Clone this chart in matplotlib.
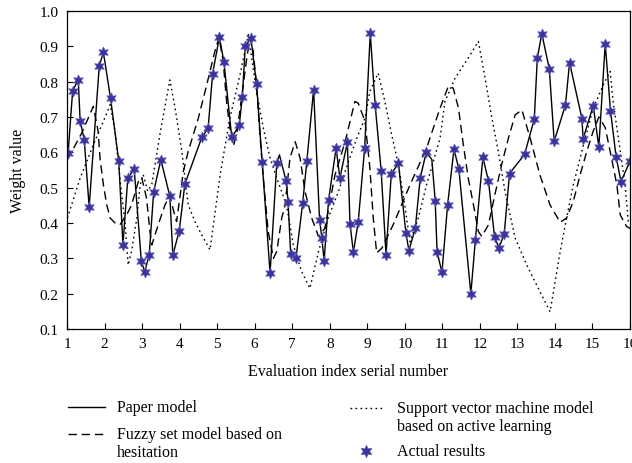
import matplotlib
matplotlib.use("Agg")
import matplotlib.pyplot as plt
from matplotlib.lines import Line2D

plt.rcParams['font.family'] = ['Liberation Serif', 'DejaVu Serif']

# Paper model (solid line)
paper_x = [1.03, 1.15, 1.30, 1.35, 1.46, 1.59, 1.86, 1.97, 2.16, 2.38, 2.49, 2.62, 2.79, 2.98, 3.07, 3.19,
           3.31, 3.50, 3.74, 3.82, 3.99, 4.14, 4.59, 4.76, 4.88, 5.06, 5.18, 5.39, 5.59, 5.67, 5.75, 5.90,
           6.05, 6.20, 6.41, 6.59, 6.66, 6.84, 6.89, 6.96, 7.10, 7.28, 7.39, 7.57, 7.73, 7.79, 7.85, 7.97,
           8.17, 8.27, 8.47, 8.54, 8.63, 8.76, 8.93, 9.08, 9.21, 9.37, 9.50, 9.64, 9.83, 10.03, 10.11, 10.28,
           10.41, 10.57, 10.72, 10.81, 10.86, 10.99, 11.14, 11.31, 11.44, 11.76, 11.88, 12.08, 12.23, 12.39,
           12.51, 12.65, 12.79, 13.19, 13.45, 13.53, 13.65, 13.85, 13.98, 14.28, 14.39, 14.72, 14.75, 15.02,
           15.17, 15.34, 15.48, 15.63, 15.76, 16.00]
paper_y = [0.598, 0.774, 0.805, 0.690, 0.635, 0.445, 0.845, 0.883, 0.753, 0.575, 0.338, 0.527, 0.553, 0.292, 0.262, 0.310,
           0.489, 0.579, 0.476, 0.309, 0.378, 0.510, 0.642, 0.668, 0.823, 0.926, 0.857, 0.642, 0.677, 0.757, 0.900, 0.923,
           0.793, 0.573, 0.258, 0.570, 0.593, 0.518, 0.460, 0.312, 0.300, 0.457, 0.575, 0.777, 0.408, 0.358, 0.293, 0.466,
           0.612, 0.527, 0.628, 0.398, 0.317, 0.404, 0.612, 0.937, 0.734, 0.548, 0.310, 0.539, 0.569, 0.371, 0.322, 0.385,
           0.527, 0.600, 0.580, 0.463, 0.319, 0.260, 0.451, 0.609, 0.553, 0.200, 0.352, 0.586, 0.519, 0.361,
           0.329, 0.370, 0.540, 0.594, 0.694, 0.866, 0.936, 0.836, 0.631, 0.734, 0.854, 0.695, 0.638, 0.732,
           0.615, 0.907, 0.718, 0.587, 0.517, 0.575]

# Actual results (star markers)
actual_x = [1.03, 1.15, 1.30, 1.35, 1.46, 1.59, 1.86, 1.97, 2.16, 2.38, 2.49, 2.62, 2.79, 2.98, 3.07, 3.19,
            3.31, 3.50, 3.74, 3.82, 3.99, 4.14, 4.59, 4.76, 4.88, 5.06, 5.18, 5.39, 5.59, 5.67, 5.75, 5.90,
            6.05, 6.20, 6.41, 6.59, 6.84, 6.89, 6.96, 7.10, 7.28, 7.39, 7.57, 7.73, 7.79, 7.85, 7.97,
            8.17, 8.27, 8.47, 8.54, 8.63, 8.76, 8.93, 9.08, 9.21, 9.37, 9.50, 9.64, 9.83, 10.03, 10.11, 10.28,
            10.41, 10.57, 10.81, 10.86, 10.99, 11.14, 11.31, 11.44, 11.76, 11.88, 12.08, 12.23, 12.39,
            12.51, 12.65, 12.79, 13.19, 13.45, 13.53, 13.65, 13.85, 13.98, 14.28, 14.39, 14.72, 14.75, 15.02,
            15.17, 15.34, 15.48, 15.63, 15.76, 16.00]
actual_y = [0.598, 0.774, 0.805, 0.690, 0.635, 0.445, 0.845, 0.883, 0.753, 0.575, 0.338, 0.527, 0.553, 0.292, 0.262, 0.310,
            0.489, 0.579, 0.476, 0.309, 0.378, 0.510, 0.642, 0.668, 0.823, 0.926, 0.857, 0.642, 0.677, 0.757, 0.900, 0.923,
            0.793, 0.573, 0.258, 0.570, 0.518, 0.460, 0.312, 0.300, 0.457, 0.575, 0.777, 0.408, 0.358, 0.293, 0.466,
            0.612, 0.527, 0.628, 0.398, 0.317, 0.404, 0.612, 0.937, 0.734, 0.548, 0.310, 0.539, 0.569, 0.371, 0.322, 0.385,
            0.527, 0.600, 0.463, 0.319, 0.260, 0.451, 0.609, 0.553, 0.200, 0.352, 0.586, 0.519, 0.361,
            0.329, 0.370, 0.540, 0.594, 0.694, 0.866, 0.936, 0.836, 0.631, 0.734, 0.854, 0.695, 0.638, 0.732,
            0.615, 0.907, 0.718, 0.587, 0.517, 0.575]

# Fuzzy set model based on hesitation (dashed)
fuzzy_x = [1.01, 1.39, 1.70, 1.83, 1.88, 1.97, 2.06, 2.15, 2.28, 2.41, 2.59, 2.72, 2.90, 2.99, 3.12, 3.21, 3.26,
           3.43, 3.61, 3.74, 3.85, 3.92, 4.10, 4.23, 4.50, 4.72, 4.94, 5.05, 5.16, 5.26, 5.34, 5.43, 5.52, 5.65,
           5.79, 5.88, 5.96, 6.05, 6.14, 6.23, 6.36, 6.50, 6.59, 6.72, 6.81, 6.94, 7.08, 7.21, 7.34, 7.52, 7.70,
           7.87, 8.14, 8.41, 8.67, 8.76, 8.94, 9.07, 9.16, 9.25, 9.39, 9.69, 10.14, 10.58, 10.94, 11.16, 11.29,
           11.43, 11.56, 11.69, 11.83, 11.96, 12.05, 12.23, 12.40, 12.58, 12.76, 12.94, 13.12, 13.34, 13.60,
           13.87, 14.14, 14.31, 14.49, 14.67, 14.85, 15.02, 15.17, 15.34, 15.47, 15.65, 15.74, 15.91, 16.00]
fuzzy_y = [0.579, 0.654, 0.730, 0.660, 0.583, 0.508, 0.451, 0.414, 0.400, 0.395, 0.423, 0.451, 0.517, 0.529, 0.470, 0.376, 0.338,
           0.395, 0.451, 0.478, 0.430, 0.404, 0.546, 0.603, 0.697, 0.790, 0.886, 0.925, 0.858, 0.735, 0.669, 0.617, 0.650, 0.754,
           0.867, 0.924, 0.886, 0.790, 0.650, 0.527, 0.376, 0.300, 0.320, 0.414, 0.450, 0.584, 0.630, 0.584, 0.490, 0.414, 0.362,
           0.385, 0.536, 0.630, 0.744, 0.739, 0.688, 0.555, 0.414, 0.315, 0.329, 0.395, 0.508, 0.612, 0.725, 0.787, 0.782,
           0.725, 0.621, 0.527, 0.451, 0.376, 0.362, 0.395, 0.480, 0.565, 0.640, 0.706, 0.720, 0.640, 0.536,
           0.451, 0.402, 0.414, 0.461, 0.536, 0.603, 0.660, 0.700, 0.670, 0.603, 0.508, 0.423, 0.390, 0.385]

# Support vector machine model based on active learning (dotted)
svm_x = [1.01, 1.35, 1.70, 1.97, 2.15, 2.28, 2.41, 2.55, 2.63, 2.72, 2.86, 2.95, 3.03, 3.15, 3.26, 3.49, 3.74,
         3.88, 4.06, 4.23, 4.41, 4.59, 4.81, 5.08, 5.34, 5.61, 5.83, 6.05, 6.23, 6.41, 6.59, 6.85, 7.03, 7.25,
         7.47, 7.70, 7.96, 8.23, 8.50, 8.72, 8.94, 9.07, 9.29, 9.47, 9.65, 9.83, 10.01, 10.14, 10.36, 10.58,
         10.94, 11.07, 11.34, 11.69, 11.96, 12.14, 12.32, 12.49, 12.67, 12.94, 13.25, 13.60, 13.87, 14.14,
         14.31, 14.49, 14.76, 15.02, 15.29, 15.47, 15.55, 15.74, 15.87, 15.96]
svm_y = [0.414, 0.527, 0.621, 0.688, 0.735, 0.660, 0.527, 0.395, 0.281, 0.320, 0.414, 0.508, 0.537, 0.490, 0.510, 0.660, 0.805,
         0.725, 0.603, 0.451, 0.404, 0.366, 0.324, 0.536, 0.697, 0.820, 0.933, 0.773, 0.669, 0.584, 0.527, 0.450, 0.338, 0.263,
         0.215, 0.319, 0.414, 0.489, 0.574, 0.640, 0.697, 0.773, 0.824, 0.744, 0.650, 0.565, 0.442, 0.347, 0.414, 0.508,
         0.640, 0.744, 0.810, 0.867, 0.914, 0.810, 0.697, 0.603, 0.489, 0.357, 0.281, 0.206, 0.149, 0.319,
         0.414, 0.508, 0.621, 0.725, 0.791, 0.829, 0.744, 0.603, 0.508, 0.395]

x_ticks = list(range(1, 17))
y_ticks = [0.1, 0.2, 0.3, 0.4, 0.5, 0.6, 0.7, 0.8, 0.9, 1.0]

W, H = 632, 464
fig = plt.figure(figsize=(W / 100, H / 100), dpi=100)
ax = fig.add_axes([67 / W, 1 - 330 / H, (630 - 67) / W, (330 - 12) / H])

star_color = '#3a339a'
star_edge = '#5f58b8'
l_paper, = ax.plot(paper_x, paper_y, color='black', lw=1.0)
l_fuzzy, = ax.plot(fuzzy_x, fuzzy_y, color='black', lw=1.0, dashes=(6, 3.5))
l_svm, = ax.plot(svm_x, svm_y, color='black', lw=1.0, dashes=(1.2, 2.4))
ax.plot(actual_x, actual_y, ls='none', marker=(6, 1, 0), markersize=8,
        markerfacecolor=star_color, markeredgecolor=star_edge, markeredgewidth=0.5)

ax.set_xlim(1, 16)
ax.set_ylim(0.1, 1.0)
ax.set_xticks(x_ticks)
ax.set_yticks(y_ticks)
ax.set_yticklabels([f'{v:.1f}' for v in y_ticks])
ax.tick_params(direction='in', length=4, width=0.8, labelsize=11, top=False, right=False, pad=6)
for s in ax.spines.values():
    s.set_linewidth(0.9)

ax.set_xlabel('Evaluation index serial number', fontsize=11.5, labelpad=9)
ax.set_ylabel('Weight value', fontsize=11.5, labelpad=10)

# Legend drawn as figure artists to reproduce the layout
def fx(px):
    return px / W

def fy(py):
    return 1 - py / H

legend_fs = 11.5
# column 1
fig.add_artist(Line2D([fx(68), fx(105)], [fy(408), fy(408)], color='black', lw=1.0,
                      transform=fig.transFigure))
fig.text(fx(117), fy(408), 'Paper model', fontsize=legend_fs, va='center', ha='left')
fig.add_artist(Line2D([fx(68), fx(105)], [fy(435), fy(435)], color='black', lw=1.0, dashes=(6, 3.5),
                      transform=fig.transFigure))
fig.text(fx(117), fy(435), 'Fuzzy set model based on', fontsize=legend_fs, va='center', ha='left')
fig.text(fx(117), fy(453), 'hesitation', fontsize=legend_fs, va='center', ha='left')
# column 2
fig.add_artist(Line2D([fx(350), fx(385)], [fy(409), fy(409)], color='black', lw=1.0, dashes=(1.2, 2.4),
                      transform=fig.transFigure))
fig.text(fx(397), fy(409), 'Support vector machine model', fontsize=legend_fs, va='center', ha='left')
fig.text(fx(397), fy(427), 'based on active learning', fontsize=legend_fs, va='center', ha='left')
fig.add_artist(Line2D([fx(366)], [fy(452)], ls='none', marker=(6, 1, 0), markersize=9,
                      markerfacecolor=star_color, markeredgecolor=star_edge, markeredgewidth=0.5,
                      transform=fig.transFigure))
fig.text(fx(397), fy(452), 'Actual results', fontsize=legend_fs, va='center', ha='left')

fig.savefig('out.png', dpi=100)
